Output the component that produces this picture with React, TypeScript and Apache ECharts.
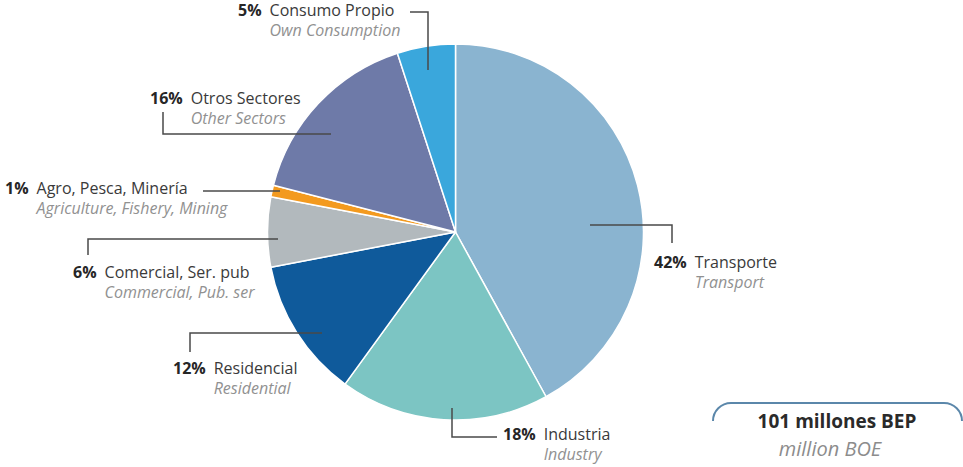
import React, { useEffect, useRef } from "react";
import * as echarts from "echarts";

// Final energy consumption by sector (percent of total)
const sectorsEs = [
  "Transporte",
  "Industria",
  "Residencial",
  "Comercial, Ser. pub",
  "Agro, Pesca, Minería",
  "Otros Sectores",
  "Consumo Propio",
];
const sectorsEn = [
  "Transport",
  "Industry",
  "Residential",
  "Commercial, Pub. ser",
  "Agriculture, Fishery, Mining",
  "Other Sectors",
  "Own Consumption",
];
const shares = [42, 18, 12, 6, 1, 16, 5];
const colors = ["#8ab4d0", "#7cc5c3", "#0f5a9b", "#b2b9bd", "#f39a1f", "#6e7aa8", "#3aa7dc"];

// label anchors (top-left of the label block) and leader-line routes
const labelAnchors: [number, number][] = [
  [654, 252],
  [503, 424],
  [173, 358],
  [73, 262],
  [5, 178],
  [150, 88],
  [238, 0],
];
const leaderLines: [number, number][][] = [
  [[590, 225], [672, 225], [672, 243]],
  [[452, 408], [452, 437], [497, 437]],
  [[322, 333], [190, 333], [190, 352]],
  [[278, 239], [88, 239], [88, 255]],
  [[280, 191], [203, 191]],
  [[331, 134], [163, 134], [163, 112]],
  [[428, 70], [428, 12], [410, 12]],
];

const totalLine1 = "101 millones BEP";
const totalLine2 = "million BOE";

const FONT = "'Open Sans', 'DejaVu Sans', sans-serif";

export default function App() {
  const ref = useRef<HTMLDivElement>(null);

  useEffect(() => {
    if (!ref.current) return;
    const chart = echarts.init(ref.current, undefined, { renderer: "svg" });
    const boxStroke = { stroke: "#5b87aa", lineWidth: 2, fill: "none" };
    const pctStyle = { fontFamily: FONT, fontSize: 16, fontWeight: "bold", lineHeight: 20, padding: [0, 8, 0, 0] };

    chart.setOption({
      animation: false,
      backgroundColor: "#ffffff",
      textStyle: { fontFamily: FONT },
      series: [
        {
          type: "pie",
          center: [455.5, 232],
          radius: 188,
          startAngle: 90,
          clockwise: true,
          silent: true,
          itemStyle: { borderColor: "#ffffff", borderWidth: 1.5 },
          data: shares.map((v, i) => ({
            value: v,
            name: sectorsEs[i],
            en: sectorsEn[i],
            itemStyle: { color: colors[i] },
          })),
          label: {
            show: true,
            position: "outside",
            overflow: "none",
            width: 320,
            formatter: (p: any) =>
              `{p|${p.value}%}{n|${p.name}}\n{h|${p.value}%}{e|${p.data.en}}`,
            rich: {
              p: { ...pctStyle, color: "#262626" },
              h: { ...pctStyle, color: "rgba(0,0,0,0)" },
              n: { fontFamily: FONT, fontSize: 16, color: "#3a3a3a", lineHeight: 20 },
              e: { fontFamily: FONT, fontSize: 16, fontStyle: "italic", color: "#919191", lineHeight: 20 },
            },
          },
          labelLine: { show: false },
          labelLayout: (params: any) => {
            const i = params.dataIndex;
            return {
              x: labelAnchors[i][0],
              y: labelAnchors[i][1],
              align: "left",
              verticalAlign: "top",
            };
          },
        },
      ],
      graphic: [
        // leader lines, drawn over the slices
        ...leaderLines.map((pts) => ({
          type: "polyline",
          z: 100,
          shape: { points: pts },
          style: { stroke: "#4a4a4a", lineWidth: 1.5, fill: "none" },
        })),
        { type: "arc", shape: { cx: 731, cy: 421, r: 18, startAngle: Math.PI, endAngle: Math.PI * 1.5 }, style: boxStroke },
        { type: "line", shape: { x1: 731, y1: 403, x2: 944, y2: 403 }, style: boxStroke },
        { type: "arc", shape: { cx: 944, cy: 421, r: 18, startAngle: Math.PI * 1.5, endAngle: Math.PI * 2 }, style: boxStroke },
        {
          type: "text",
          x: 837,
          y: 421,
          style: {
            text: totalLine1,
            fontFamily: FONT,
            fontSize: 19,
            fontWeight: "bold",
            fill: "#2a2a2a",
            align: "center",
            verticalAlign: "middle",
          },
        },
        {
          type: "text",
          x: 830,
          y: 448,
          style: {
            text: totalLine2,
            fontFamily: FONT,
            fontSize: 20,
            fontStyle: "italic",
            fill: "#8c8c8c",
            align: "center",
            verticalAlign: "middle",
          },
        },
      ],
    });
    return () => chart.dispose();
  }, []);

  return (
    <div
      ref={ref}
      style={{ position: "fixed", left: 0, top: 0, width: 963, height: 467 }}
    />
  );
}
